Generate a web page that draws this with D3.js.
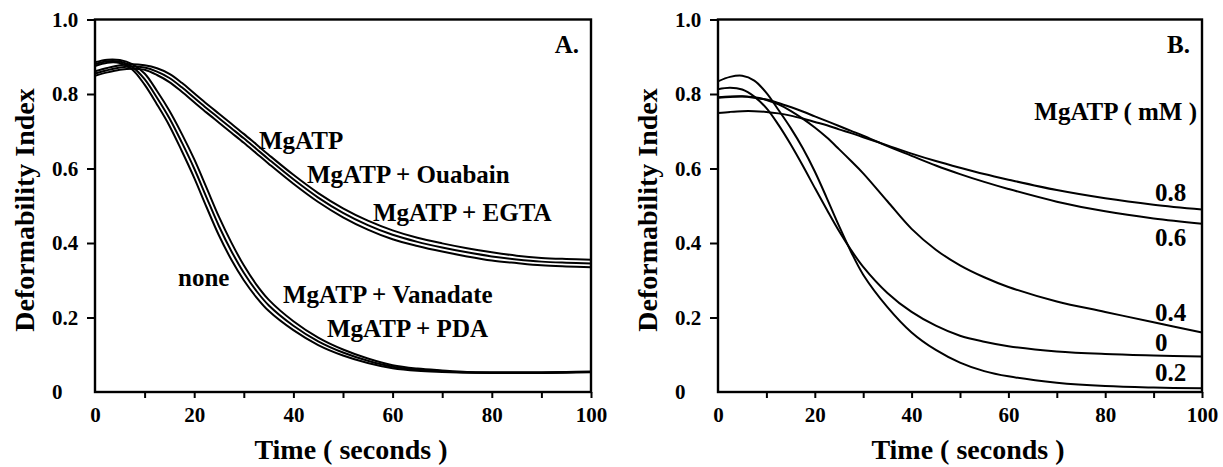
<!DOCTYPE html>
<html>
<head>
<meta charset="utf-8">
<script src="https://cdn.jsdelivr.net/npm/d3@7"></script>
<style>
  body { margin: 0; background: #fff; }
  svg text { font-family: "Liberation Serif", "DejaVu Serif", "Times New Roman", serif; font-weight: bold; fill: #000; }
</style>
</head>
<body>
<div id="chart"></div>
<script>
// ---- panel A: time grid and curves ----
var timesA = [0, 2.5, 5, 7.5, 10, 12.5, 15, 17.5, 20, 22.5, 25, 27.5, 30, 32.5, 35, 40, 45, 50, 55, 60, 65, 70, 75, 80, 85, 90, 95, 100];
var aNone     = [0.875, 0.884, 0.883, 0.866, 0.825, 0.772, 0.715, 0.647, 0.575, 0.496, 0.420, 0.355, 0.300, 0.255, 0.218, 0.166, 0.126, 0.098, 0.078, 0.064, 0.057, 0.054, 0.052, 0.051, 0.051, 0.051, 0.052, 0.053];
var aVanadate = [0.880, 0.888, 0.887, 0.873, 0.840, 0.790, 0.735, 0.670, 0.600, 0.522, 0.445, 0.378, 0.320, 0.272, 0.233, 0.178, 0.136, 0.106, 0.084, 0.068, 0.060, 0.056, 0.053, 0.052, 0.052, 0.052, 0.053, 0.054];
var aPDA      = [0.885, 0.892, 0.891, 0.880, 0.855, 0.808, 0.755, 0.693, 0.625, 0.548, 0.470, 0.401, 0.340, 0.289, 0.248, 0.190, 0.146, 0.114, 0.090, 0.072, 0.063, 0.058, 0.054, 0.053, 0.053, 0.053, 0.054, 0.055];
var aMgATP    = [0.861, 0.870, 0.877, 0.880, 0.877, 0.869, 0.854, 0.830, 0.802, 0.774, 0.747, 0.720, 0.693, 0.665, 0.637, 0.583, 0.534, 0.493, 0.460, 0.434, 0.414, 0.399, 0.386, 0.375, 0.366, 0.360, 0.357, 0.355];
var aOuabain  = [0.855, 0.864, 0.871, 0.874, 0.871, 0.860, 0.843, 0.818, 0.790, 0.762, 0.735, 0.708, 0.681, 0.653, 0.625, 0.571, 0.522, 0.481, 0.448, 0.422, 0.403, 0.388, 0.375, 0.364, 0.356, 0.350, 0.347, 0.345];
var aEGTA     = [0.849, 0.858, 0.865, 0.868, 0.865, 0.851, 0.832, 0.806, 0.778, 0.750, 0.723, 0.696, 0.669, 0.641, 0.613, 0.559, 0.510, 0.469, 0.436, 0.410, 0.392, 0.377, 0.364, 0.353, 0.346, 0.340, 0.337, 0.335];

// ---- panel B: MgATP concentration series ----
var timesB = [0, 2.5, 5, 7.5, 10, 12.5, 15, 17.5, 20, 22.5, 25, 27.5, 30, 35, 40, 45, 50, 55, 60, 70, 80, 90, 100];
var b0   = [0.813, 0.817, 0.812, 0.793, 0.762, 0.717, 0.665, 0.608, 0.548, 0.489, 0.432, 0.381, 0.336, 0.266, 0.215, 0.178, 0.151, 0.135, 0.123, 0.109, 0.102, 0.098, 0.095];
var b02  = [0.834, 0.846, 0.849, 0.836, 0.803, 0.757, 0.709, 0.655, 0.592, 0.520, 0.446, 0.376, 0.315, 0.228, 0.160, 0.113, 0.079, 0.056, 0.042, 0.025, 0.016, 0.012, 0.010];
var b04  = [0.791, 0.793, 0.794, 0.791, 0.784, 0.772, 0.755, 0.734, 0.710, 0.683, 0.652, 0.620, 0.587, 0.512, 0.438, 0.382, 0.340, 0.308, 0.282, 0.243, 0.215, 0.187, 0.160];
var b06  = [0.790, 0.792, 0.793, 0.790, 0.785, 0.776, 0.765, 0.753, 0.740, 0.727, 0.714, 0.701, 0.688, 0.660, 0.634, 0.608, 0.585, 0.564, 0.545, 0.511, 0.485, 0.466, 0.452];
var b08  = [0.749, 0.752, 0.754, 0.754, 0.752, 0.748, 0.742, 0.734, 0.725, 0.716, 0.705, 0.695, 0.684, 0.662, 0.640, 0.620, 0.602, 0.585, 0.570, 0.542, 0.520, 0.503, 0.490];

// ---- ticks and labels ----
var xTicks = [0, 10, 20, 30, 40, 50, 60, 70, 80, 90, 100];
var yTicks = [0, 0.2, 0.4, 0.6, 0.8, 1.0];
var labelsA = ["MgATP", "MgATP + Ouabain", "MgATP + EGTA", "none", "MgATP + Vanadate", "MgATP + PDA"];
var labelsB = ["0.8", "0.6", "0.4", "0", "0.2"];

var font = '"Liberation Serif", "DejaVu Serif", "Times New Roman", serif';

var svg = d3.select('#chart').append('svg')
            .attr('width', 1223)
            .attr('height', 467)
            .attr('font-family', font);

function panel(p) {
  var x = d3.scaleLinear().domain([0, 100]).range([p.left, p.right]);
  var y = d3.scaleLinear().domain([0, 1]).range([392, 19.5]);

  // x axis with minor ticks every 10
  var xa = svg.append('g')
     .attr('transform', 'translate(0,' + y(0) + ')')
     .call(d3.axisBottom(x).tickValues(xTicks).tickSize(6).tickSizeOuter(0)
           .tickFormat(function(d) { return d % 20 === 0 ? d : ''; }));
  xa.attr('font-family', font);
  xa.select('.domain').remove();
  xa.selectAll('.tick line').attr('stroke-width', 2)
     .filter(function(d) { return d === 0; }).remove();
  xa.selectAll('.tick text').attr('y', 15).attr('font-size', 21);

  var ya = svg.append('g')
     .attr('transform', 'translate(' + p.left + ',0)')
     .call(d3.axisLeft(y).tickValues(yTicks).tickSize(8).tickSizeOuter(0)
           .tickFormat(function(d) { return d === 0 ? '0' : d3.format('.1f')(d); }));
  ya.attr('font-family', font);
  ya.select('.domain').remove();
  ya.selectAll('.tick line').attr('stroke-width', 2)
     .filter(function(d) { return d === 0; }).remove();
  ya.selectAll('.tick text').attr('x', -43).attr('text-anchor', 'start')
     .attr('font-size', 21);

  // frame
  svg.append('rect')
     .attr('x', p.left).attr('y', y(1))
     .attr('width', p.right - p.left).attr('height', y(0) - y(1))
     .attr('fill', 'none').attr('stroke', '#000').attr('stroke-width', 2.4);

  var line = d3.line()
     .x(function(d) { return x(d[0]); })
     .y(function(d) { return y(d[1]); })
     .curve(d3.curveCatmullRom.alpha(0.5));

  svg.selectAll(null)
     .data(p.series)
     .enter()
     .append('path')
       .attr('d', function(s) { return line(p.times.map(function(t, i) { return [t, s[i]]; })); })
       .attr('fill', 'none')
       .attr('stroke', '#000')
       .attr('stroke-width', p.lw);

  svg.append('text')
     .attr('x', (p.left + p.right) / 2 + 8).attr('y', 459)
     .attr('text-anchor', 'middle').attr('font-size', 28)
     .text('Time ( seconds )');

  svg.append('text')
     .attr('transform', 'translate(' + (p.left - 61) + ',210) rotate(-90)')
     .attr('text-anchor', 'middle').attr('font-size', 28)
     .text('Deformability Index');

  svg.append('text')
     .attr('x', p.right - 12).attr('y', 53)
     .attr('text-anchor', 'end').attr('font-size', 25)
     .text(p.tag);
}

panel({ left: 95, right: 591, times: timesA, lw: 2, tag: 'A.',
        series: [aNone, aVanadate, aPDA, aMgATP, aOuabain, aEGTA] });
panel({ left: 718, right: 1202, times: timesB, lw: 2, tag: 'B.',
        series: [b0, b02, b04, b06, b08] });

// curve labels, panel A
var posA = [[259, 149], [307, 183], [373, 221], [178, 286], [283, 303], [327, 337]];
svg.selectAll('text.la')
   .data(labelsA)
   .enter()
   .append('text')
     .attr('class', 'la')
     .attr('x', function(d, i) { return posA[i][0]; })
     .attr('y', function(d, i) { return posA[i][1]; })
     .attr('font-size', 25)
     .text(function(d) { return d; });

// curve labels, panel B
var posB = [201, 246, 321, 351, 381];
svg.selectAll('text.lb')
   .data(labelsB)
   .enter()
   .append('text')
     .attr('class', 'lb')
     .attr('x', 1155)
     .attr('y', function(d, i) { return posB[i]; })
     .attr('font-size', 25)
     .text(function(d) { return d; });

svg.append('text')
   .attr('x', 1197).attr('y', 120)
   .attr('text-anchor', 'end').attr('font-size', 25)
   .text('MgATP ( mM )');
</script>
</body>
</html>
